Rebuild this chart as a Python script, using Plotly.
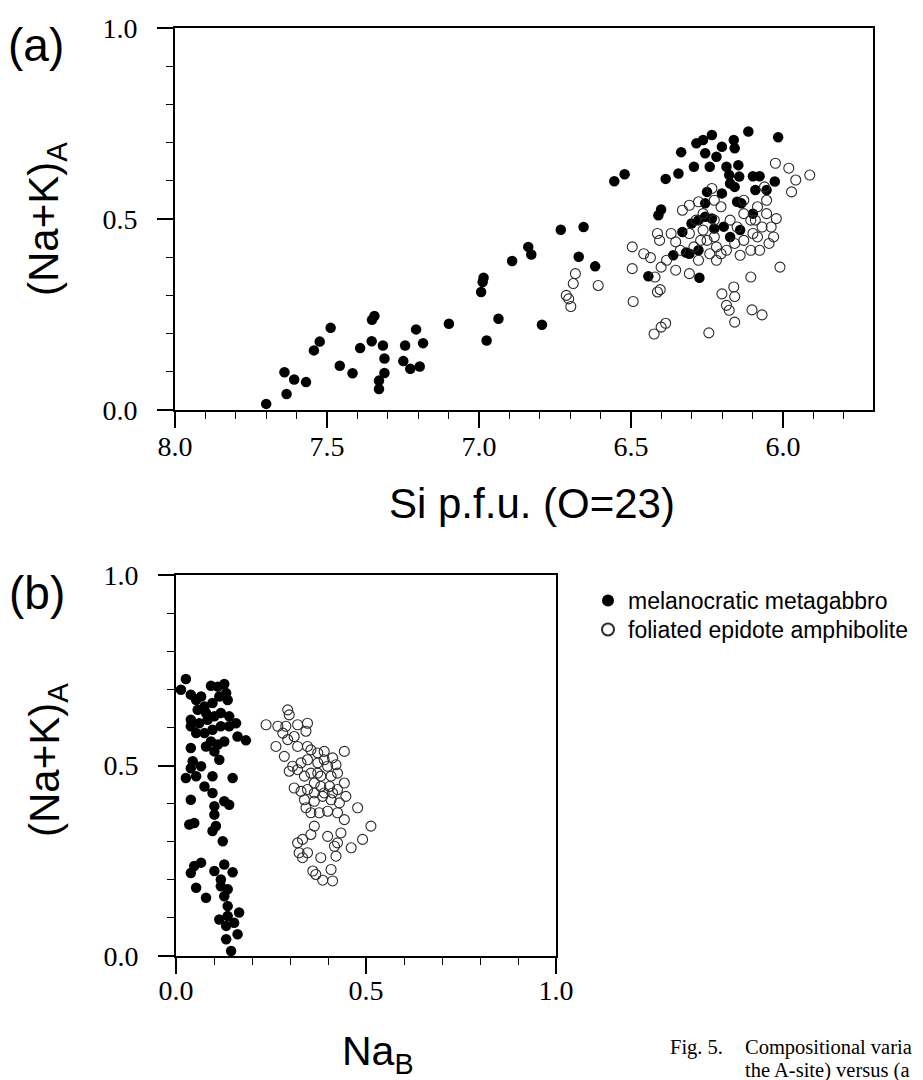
import plotly.graph_objects as go

# ---------------- Panel (a): Si p.f.u. vs (Na+K)_A ----------------
a_meta_si = [7.70, 7.633, 7.64, 7.608, 7.569, 7.543, 7.524, 7.488, 7.458, 7.416, 7.391, 7.353,
             7.352, 7.344, 7.316, 7.311, 7.311, 7.329, 7.329, 7.243, 7.249, 7.226, 7.195, 7.207,
             7.184, 7.099, 6.993, 6.988, 6.985, 6.975, 6.936, 6.891, 6.838, 6.828, 6.793, 6.731,
             6.672, 6.656, 6.618, 6.555, 6.521, 6.443, 6.410, 6.401, 6.386, 6.344, 6.335, 6.361,
             6.319, 6.275, 6.331, 6.301, 6.278, 6.256, 6.234, 6.293, 6.285, 6.263, 6.234, 6.256,
             6.241, 6.219, 6.201, 6.162, 6.159, 6.186, 6.177, 6.147, 6.144, 6.201, 6.250, 6.256,
             6.174, 6.159, 6.151, 6.141, 6.114, 6.099, 6.077, 6.099, 6.091, 6.054, 6.027, 6.016,
             6.137, 6.195, 6.174, 6.226, 6.308, 6.278]
a_meta_nak = [0.016, 0.042, 0.099, 0.080, 0.073, 0.156, 0.179, 0.215, 0.116, 0.096, 0.162, 0.180,
              0.236, 0.246, 0.169, 0.135, 0.097, 0.077, 0.055, 0.169, 0.128, 0.108, 0.114, 0.211,
              0.175, 0.226, 0.309, 0.335, 0.346, 0.182, 0.239, 0.390, 0.427, 0.407, 0.223, 0.472,
              0.401, 0.479, 0.376, 0.599, 0.617, 0.350, 0.510, 0.525, 0.605, 0.619, 0.675, 0.405,
              0.412, 0.346, 0.466, 0.488, 0.497, 0.506, 0.501, 0.637, 0.698, 0.707, 0.720, 0.672,
              0.637, 0.663, 0.689, 0.707, 0.685, 0.637, 0.615, 0.641, 0.611, 0.567, 0.571, 0.541,
              0.593, 0.584, 0.545, 0.471, 0.729, 0.612, 0.612, 0.514, 0.576, 0.576, 0.598, 0.714,
              0.541, 0.480, 0.453, 0.475, 0.409, 0.418]

a_amph_si = [6.705, 6.698, 6.690, 6.683, 6.713, 6.608, 6.496, 6.493, 6.496, 6.458, 6.436, 6.424,
             6.401, 6.386, 6.413, 6.404, 6.413, 6.406, 6.401, 6.421, 6.353, 6.338, 6.353, 6.308,
             6.278, 6.331, 6.308, 6.278, 6.244, 6.234, 6.226, 6.201, 6.186, 6.177, 6.162, 6.159,
             6.159, 6.106, 6.102, 6.069, 6.010, 6.025, 5.981, 5.958, 5.972, 5.912, 6.031, 6.039,
             6.022, 6.077, 6.141, 6.186, 6.226, 6.263, 6.271, 6.241, 6.219, 6.174, 6.129, 6.106,
             6.084, 6.069, 6.054, 6.061, 6.099, 6.129, 6.159, 6.204, 6.293, 6.308, 6.368, 6.383,
             6.204, 6.151, 6.084, 6.054, 6.226, 6.263, 6.219, 6.106, 6.046, 6.091, 6.129, 6.286,
             6.250]
a_amph_nak = [0.291, 0.271, 0.331, 0.357, 0.300, 0.326, 0.370, 0.284, 0.427, 0.409, 0.399, 0.199,
              0.217, 0.227, 0.309, 0.315, 0.462, 0.444, 0.374, 0.348, 0.440, 0.418, 0.366, 0.357,
              0.392, 0.523, 0.536, 0.545, 0.202, 0.580, 0.549, 0.304, 0.274, 0.261, 0.322, 0.297,
              0.230, 0.348, 0.262, 0.249, 0.374, 0.646, 0.633, 0.602, 0.571, 0.615, 0.453, 0.479,
              0.501, 0.418, 0.405, 0.418, 0.453, 0.471, 0.444, 0.409, 0.427, 0.497, 0.514, 0.497,
              0.532, 0.479, 0.549, 0.584, 0.462, 0.444, 0.436, 0.409, 0.427, 0.462, 0.462, 0.392,
              0.532, 0.479, 0.453, 0.514, 0.497, 0.514, 0.392, 0.418, 0.436, 0.497, 0.549, 0.497,
              0.444]

# ---------------- Panel (b): Na_B vs (Na+K)_A ----------------
b_meta_nab = [0.013, 0.026, 0.039, 0.053, 0.066, 0.075, 0.092, 0.110, 0.127, 0.132, 0.136, 0.114,
              0.096, 0.079, 0.057, 0.039, 0.039, 0.061, 0.083, 0.101, 0.118, 0.140, 0.158, 0.140,
              0.118, 0.096, 0.075, 0.053, 0.162, 0.184, 0.127, 0.110, 0.092, 0.079, 0.101, 0.114,
              0.039, 0.044, 0.039, 0.066, 0.026, 0.053, 0.075, 0.096, 0.149, 0.096, 0.101, 0.101,
              0.127, 0.140, 0.039, 0.035, 0.048, 0.096, 0.105, 0.123, 0.048, 0.066, 0.039, 0.053,
              0.079, 0.101, 0.127, 0.149, 0.118, 0.136, 0.127, 0.136, 0.114, 0.136, 0.153, 0.166,
              0.162, 0.132, 0.145, 0.132, 0.118]
b_meta_nak = [0.699, 0.727, 0.686, 0.672, 0.681, 0.655, 0.709, 0.707, 0.714, 0.690, 0.672, 0.681,
              0.664, 0.638, 0.646, 0.620, 0.603, 0.611, 0.620, 0.629, 0.638, 0.629, 0.611, 0.603,
              0.603, 0.594, 0.585, 0.585, 0.576, 0.566, 0.563, 0.555, 0.563, 0.550, 0.537, 0.515,
              0.546, 0.511, 0.493, 0.498, 0.467, 0.472, 0.445, 0.472, 0.467, 0.428, 0.393, 0.371,
              0.406, 0.397, 0.410, 0.345, 0.349, 0.328, 0.341, 0.301, 0.236, 0.245, 0.218, 0.179,
              0.153, 0.223, 0.240, 0.220, 0.183, 0.175, 0.157, 0.131, 0.096, 0.105, 0.087, 0.114,
              0.057, 0.044, 0.013, 0.079, 0.201]

b_amph_nab = [0.237, 0.268, 0.263, 0.294, 0.298, 0.289, 0.320, 0.346, 0.342, 0.311, 0.294, 0.285,
              0.298, 0.320, 0.346, 0.355, 0.373, 0.390, 0.412, 0.443, 0.421, 0.399, 0.373, 0.346,
              0.329, 0.320, 0.338, 0.355, 0.381, 0.408, 0.425, 0.443, 0.425, 0.404, 0.381, 0.364,
              0.346, 0.311, 0.329, 0.447, 0.430, 0.408, 0.386, 0.364, 0.342, 0.338, 0.355, 0.377,
              0.399, 0.425, 0.443, 0.478, 0.513, 0.364, 0.355, 0.333, 0.320, 0.324, 0.346, 0.333,
              0.381, 0.399, 0.417, 0.425, 0.434, 0.461, 0.491, 0.421, 0.360, 0.368, 0.408, 0.386,
              0.412, 0.390, 0.373, 0.390, 0.412, 0.364, 0.307, 0.281]
b_amph_nak = [0.607, 0.603, 0.550, 0.646, 0.633, 0.603, 0.607, 0.611, 0.590, 0.576, 0.568, 0.524,
              0.485, 0.550, 0.550, 0.541, 0.533, 0.537, 0.520, 0.537, 0.502, 0.498, 0.507, 0.515,
              0.507, 0.489, 0.472, 0.480, 0.472, 0.472, 0.480, 0.454, 0.437, 0.445, 0.445, 0.454,
              0.437, 0.441, 0.432, 0.419, 0.402, 0.410, 0.419, 0.406, 0.389, 0.410, 0.376, 0.376,
              0.380, 0.376, 0.358, 0.389, 0.341, 0.341, 0.319, 0.306, 0.297, 0.271, 0.271, 0.258,
              0.258, 0.314, 0.288, 0.297, 0.323, 0.284, 0.306, 0.262, 0.223, 0.214, 0.227, 0.199,
              0.197, 0.515, 0.480, 0.428, 0.428, 0.428, 0.498, 0.585]

series_names = ["melanocratic metagabbro", "foliated epidote amphibolite"]
xa_ticks = [8.0, 7.5, 7.0, 6.5, 6.0]
xb_ticks = [0.0, 0.5, 1.0]
y_ticks = [0.0, 0.5, 1.0]
caption_lines = ["Compositional varia", "the A-site) versus (a"]

# The page body has an 8 px margin, so the figure is 8 px smaller and all
# window-pixel positions below are shifted by that margin.
OFF = 8
W, H = 923 - OFF, 1080 - OFF
SANS = "Liberation Sans, Arial, sans-serif"
SERIF = "Liberation Serif, Times New Roman, serif"

filled = dict(symbol="circle", size=10.5, color="black", line=dict(width=0))
opened = dict(symbol="circle-open", size=10, color="#2a2a2a", line=dict(width=1.1))

fig = go.Figure()
fig.add_trace(go.Scatter(x=a_meta_si, y=a_meta_nak, mode="markers", marker=filled,
                         name=series_names[0], xaxis="x", yaxis="y", showlegend=False))
fig.add_trace(go.Scatter(x=a_amph_si, y=a_amph_nak, mode="markers", marker=opened,
                         name=series_names[1], xaxis="x", yaxis="y", showlegend=False))
fig.add_trace(go.Scatter(x=b_meta_nab, y=b_meta_nak, mode="markers", marker=filled,
                         name=series_names[0], xaxis="x2", yaxis="y2", legend="legend"))
fig.add_trace(go.Scatter(x=b_amph_nab, y=b_amph_nak, mode="markers", marker=opened,
                         name=series_names[1], xaxis="x2", yaxis="y2", legend="legend2"))


def px_x(p):
    return (p - OFF) / W


def px_y(p):
    return 1 - (p - OFF) / H


def axis(rng, ticks, domain, anchor, standoff):
    return dict(
        range=rng, domain=domain, anchor=anchor, automargin=False,
        tickmode="array", tickvals=ticks, ticktext=[f"{t:.1f}" for t in ticks],
        ticks="outside", ticklen=16, tickwidth=1.5, tickcolor="black",
        minor=dict(dtick=0.1, tick0=0, ticks="outside", ticklen=7, tickwidth=1.2, tickcolor="black"),
        showline=True, mirror=True, linecolor="black", linewidth=2,
        showgrid=False, zeroline=False,
        tickfont=dict(family=SERIF, size=28, color="black"),
        ticklabelstandoff=standoff,
    )


def legend_box(top):
    return dict(x=px_x(588), y=px_y(top), xanchor="left", yanchor="top",
                font=dict(family=SANS, size=23, color="black"),
                bgcolor="rgba(0,0,0,0)", itemsizing="constant")


fig.update_layout(
    width=W, height=H,
    margin=dict(l=0, r=0, t=0, b=0, autoexpand=False),
    paper_bgcolor="white", plot_bgcolor="white",
    xaxis=axis([8.0, 5.704], xa_ticks, [px_x(175), px_x(873)], "y", -6),
    yaxis=axis([0, 1], y_ticks, [px_y(410), px_y(28)], "x", 14),
    xaxis2=axis([0, 1], xb_ticks, [px_x(176), px_x(556)], "y2", -8),
    yaxis2=axis([0, 1], y_ticks, [px_y(956), px_y(575)], "x2", 14),
    legend=legend_box(579),
    legend2=legend_box(608),
    showlegend=True,
)

ann = [
    dict(text="(a)", x=px_x(36), y=px_y(45), font=dict(family=SANS, size=46)),
    dict(text="(b)", x=px_x(37), y=px_y(593), font=dict(family=SANS, size=46)),
    dict(text="(Na+K)<sub>A</sub>", x=px_x(47), y=px_y(219), textangle=-90,
         font=dict(family=SANS, size=42)),
    dict(text="(Na+K)<sub>A</sub>", x=px_x(47), y=px_y(760), textangle=-90,
         font=dict(family=SANS, size=42)),
    dict(text="Si p.f.u. (O=23)", x=px_x(532), y=px_y(503), font=dict(family=SANS, size=42)),
    dict(text="Na<sub>B</sub>", x=px_x(378), y=px_y(1054), font=dict(family=SANS, size=41)),
    dict(text="Fig. 5.", x=px_x(668), y=px_y(1047), xanchor="left",
         font=dict(family=SERIF, size=20.5)),
    dict(text=caption_lines[0], x=px_x(743), y=px_y(1047), xanchor="left",
         font=dict(family=SERIF, size=20.5)),
    dict(text=caption_lines[1], x=px_x(743), y=px_y(1070),
         xanchor="left", font=dict(family=SERIF, size=20.5)),
]
for a in ann:
    a.setdefault("xanchor", "center")
    a.update(xref="paper", yref="paper", yanchor="middle", showarrow=False)
    a["font"]["color"] = "black"
fig.update_layout(annotations=ann)

fig.write_html("out.html")
